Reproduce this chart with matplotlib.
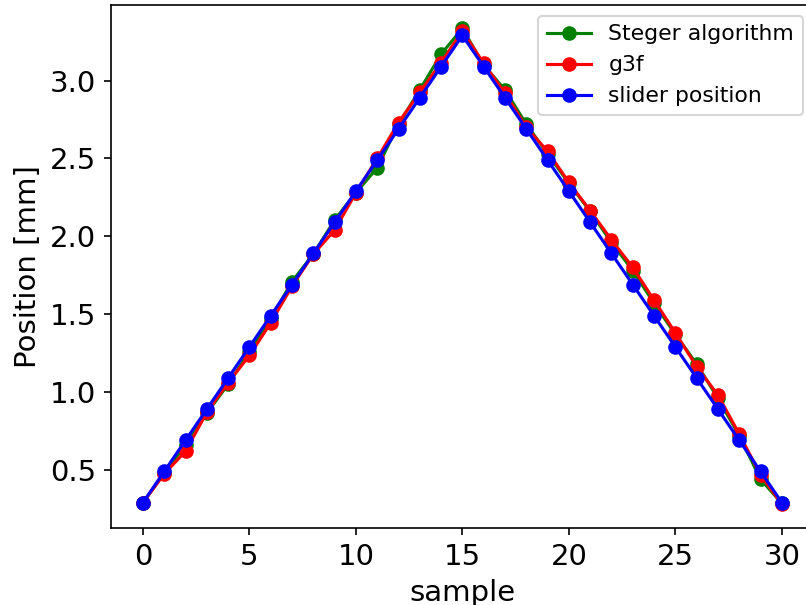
import matplotlib
matplotlib.use("Agg")
import matplotlib.pyplot as plt

samples = list(range(31))

steger = [0.29, 0.48, 0.66, 0.865, 1.05, 1.26, 1.47, 1.71, 1.885, 2.105,
          2.28, 2.44, 2.72, 2.94, 3.17, 3.335, 3.10, 2.94, 2.72, 2.53,
          2.34, 2.16, 1.96, 1.78, 1.57, 1.37, 1.18, 0.96, 0.72, 0.44, 0.285]

g3f = [0.29, 0.475, 0.62, 0.87, 1.06, 1.235, 1.445, 1.68, 1.885, 2.04,
       2.28, 2.50, 2.73, 2.925, 3.115, 3.32, 3.11, 2.92, 2.70, 2.546,
       2.346, 2.165, 1.977, 1.80, 1.59, 1.38, 1.163, 0.98, 0.73, 0.467, 0.28]

slider = [0.29, 0.49, 0.69, 0.89, 1.09, 1.29, 1.49, 1.69, 1.89, 2.09,
          2.29, 2.49, 2.69, 2.89, 3.09, 3.29, 3.09, 2.89, 2.69, 2.49,
          2.29, 2.09, 1.89, 1.69, 1.49, 1.29, 1.09, 0.89, 0.69, 0.49, 0.29]

fig = plt.figure(figsize=(806 / 150, 605 / 150), dpi=150)
# the reference is cropped: the right edge of the axes runs past the canvas
ax = fig.add_axes([0.1377, 0.1273, 0.872, 0.865])

ax.plot(samples, steger, "o-", color="green", label="Steger algorithm")
ax.plot(samples, g3f, "o-", color="red", label="g3f")
ax.plot(samples, slider, "o-", color="blue", label="slider position")

ax.set_xticks([0, 5, 10, 15, 20, 25, 30])
ax.set_yticks([0.5, 1.0, 1.5, 2.0, 2.5, 3.0])
ax.tick_params(labelsize=14)
ax.set_xlabel("sample", fontsize=14)
ax.set_ylabel("Position [mm]", fontsize=14)
ax.legend(loc="upper right", fontsize=10.5)

plt.savefig("out.png", dpi=150)
